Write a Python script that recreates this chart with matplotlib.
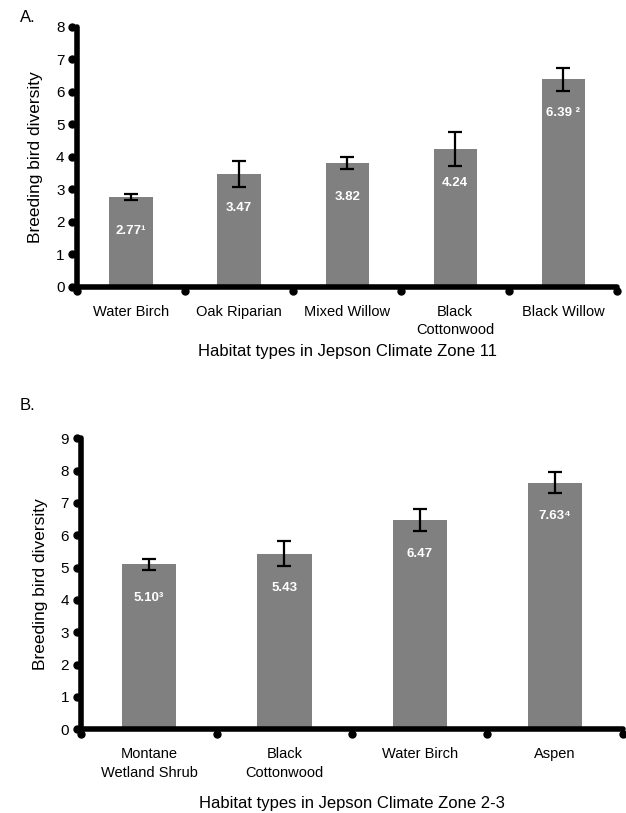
import numpy as np
import matplotlib
matplotlib.use("Agg")
import matplotlib.pyplot as plt

plt.rcParams['font.family'] = ['Liberation Sans', 'DejaVu Sans']

# Panel A - Jepson Climate Zone 11
habitats_a = ["Water Birch", "Oak Riparian", "Mixed Willow", "Black\nCottonwood", "Black Willow"]
diversity_a = [2.77, 3.47, 3.82, 4.24, 6.39]
error_a = [0.09, 0.40, 0.19, 0.52, 0.35]
labels_a = ["2.77\u00b9", "3.47", "3.82", "4.24", "6.39 \u00b2"]

# Panel B - Jepson Climate Zone 2-3
habitats_b = ["Montane\nWetland Shrub", "Black\nCottonwood", "Water Birch", "Aspen"]
diversity_b = [5.10, 5.43, 6.47, 7.63]
error_b = [0.18, 0.39, 0.34, 0.31]
labels_b = ["5.10\u00b3", "5.43", "6.47", "7.63\u2074"]

BAR = "#808080"


def panel(ax, cats, vals, errs, labels, ymax, xlabel, xpad):
    x = np.arange(len(cats))
    ax.bar(x, vals, width=0.4, color=BAR, zorder=2)
    ax.errorbar(x, vals, yerr=errs, fmt="none", ecolor="black",
                elinewidth=1.6, capsize=5, capthick=1.6, zorder=3)
    for xi, v, lab in zip(x, vals, labels):
        ax.text(xi, v - 1.05, lab, ha="center", va="center", color="white",
                fontsize=9.5, fontweight="bold", zorder=4)

    ax.set_xlim(-0.5, len(cats) - 0.5)
    ax.set_ylim(0, ymax)
    ax.set_yticks(range(ymax + 1))
    ax.set_xticks(x)
    ax.set_xticklabels(cats, fontsize=10.5, linespacing=1.4)
    ax.tick_params(axis="both", length=0)
    ax.tick_params(axis="y", pad=9, labelsize=11)
    ax.tick_params(axis="x", pad=13)

    for s in ["top", "right"]:
        ax.spines[s].set_visible(False)
    for s in ["left", "bottom"]:
        ax.spines[s].set_linewidth(4)
        ax.spines[s].set_capstyle("round")

    # round tick dots
    ax.plot(np.full(ymax + 1, -0.009), range(ymax + 1), "o", color="black",
            ms=5, transform=ax.get_yaxis_transform(), clip_on=False, zorder=5)
    bounds = np.arange(len(cats) + 1) - 0.5
    ax.plot(bounds, np.full(len(bounds), -0.016), "o", color="black",
            ms=5, transform=ax.get_xaxis_transform(), clip_on=False, zorder=5)

    ax.set_ylabel("Breeding bird diversity", fontsize=12.5, labelpad=9)
    ax.set_xlabel(xlabel, fontsize=12, labelpad=xpad)


fig = plt.figure(figsize=(6.26, 8.13), dpi=100)
ax_a = fig.add_axes([0.123, 0.647, 0.863, 0.32])
ax_b = fig.add_axes([0.130, 0.103, 0.865, 0.358])

panel(ax_a, habitats_a, diversity_a, error_a, labels_a, 8,
      "Habitat types in Jepson Climate Zone 11", 5)
panel(ax_b, habitats_b, diversity_b, error_b, labels_b, 9,
      "Habitat types in Jepson Climate Zone 2-3", 12)

fig.text(20 / 626, 1 - 18 / 813, "A.", fontsize=12, ha="left", va="center")
fig.text(20 / 626, 1 - 405 / 813, "B.", fontsize=12, ha="left", va="center")

fig.savefig("out.png", dpi=100)
